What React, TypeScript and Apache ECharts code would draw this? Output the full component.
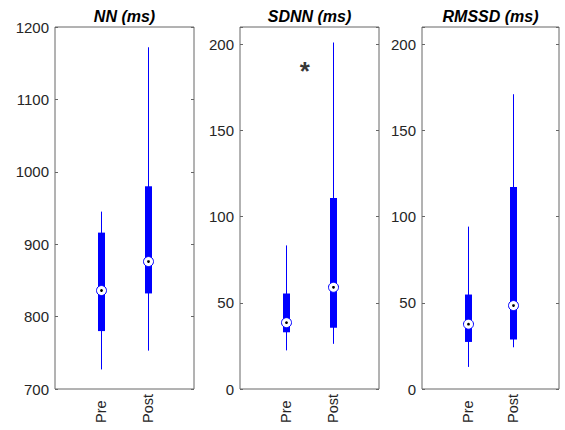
import React, { useEffect, useRef } from "react";
import * as echarts from "echarts";

// Categories and box statistics: [min, q1, median, q3, max]
const categories = ["Pre", "Post"];
const titles = ["NN (ms)", "SDNN (ms)", "RMSSD (ms)"];
const nnPre = [727, 780, 836, 916, 945];
const nnPost = [753, 832, 876, 980, 1172];
const sdnnPre = [22.4, 32.9, 38.5, 55.4, 83.3];
const sdnnPost = [26.2, 35.5, 59, 110.8, 201];
const rmssdPre = [12.8, 27.3, 37.6, 54.8, 94.2];
const rmssdPost = [24.2, 28.7, 48.4, 117.2, 171];
const yMins = [700, 0, 0];
const yMaxs = [1200, 210, 210];
const yIntervals = [100, 50, 50];
const asterisk = [1.4, 184.5];

const FONT = "'Liberation Sans', Arial, Helvetica, sans-serif";
const AXIS_COLOR = "#666666";
const TEXT_COLOR = "#262626";
const BLUE = "#0000ff";

const panels = [
  { left: 55, width: 139, data: [nnPre, nnPost] },
  { left: 240, width: 139, data: [sdnnPre, sdnnPost] },
  { left: 422, width: 137, data: [rmssdPre, rmssdPost] },
];
const TOP = 27;
const HEIGHT = 362;

export default function App() {
  const ref = useRef<HTMLDivElement>(null);
  useEffect(() => {
    if (!ref.current) return;
    const chart = echarts.init(ref.current, null, { renderer: "svg" });

    const grid = panels.map((p) => ({
      left: p.left,
      top: TOP,
      width: p.width,
      height: HEIGHT,
      show: true,
      borderColor: AXIS_COLOR,
      borderWidth: 1,
      backgroundColor: "transparent",
      containLabel: false,
    }));

    const xAxis = panels.map((_, i) => ({
      type: "value",
      gridIndex: i,
      min: 0,
      max: 3,
      interval: 1,
      axisLine: { show: false },
      axisTick: { show: false },
      splitLine: { show: false },
      axisLabel: {
        rotate: 90,
        align: "left",
        margin: 34,
        fontSize: 14.5,
        fontFamily: FONT,
        color: TEXT_COLOR,
        formatter: (v: number) =>
          v >= 1 && v <= categories.length && Number.isInteger(v) ? categories[v - 1] : "",
      },
    }));

    const yAxis: any[] = [];
    panels.forEach((_, i) => {
      const base = {
        type: "value",
        gridIndex: i,
        min: yMins[i],
        max: yMaxs[i],
        interval: yIntervals[i],
        splitLine: { show: false },
        axisLine: { show: false },
        axisTick: {
          show: true,
          inside: true,
          length: 3,
          lineStyle: { color: AXIS_COLOR, width: 1 },
        },
      };
      yAxis.push({
        ...base,
        position: "left",
        axisLabel: {
          margin: 6,
          fontSize: 15,
          fontFamily: FONT,
          color: TEXT_COLOR,
          formatter: (v: number) => (v % yIntervals[i] === 0 ? String(v) : ""),
        },
      });
      yAxis.push({
        ...base,
        position: "right",
        axisLabel: { show: false },
      });
    });

    const renderItem = (params: any, api: any) => {
      const x = api.value(0);
      const pMin = api.coord([x, api.value(1)]);
      const pQ1 = api.coord([x, api.value(2)]);
      const pMed = api.coord([x, api.value(3)]);
      const pQ3 = api.coord([x, api.value(4)]);
      const pMax = api.coord([x, api.value(5)]);
      const cx = Math.round(pMed[0]) + 0.5;
      return {
        type: "group",
        children: [
          {
            type: "line",
            shape: { x1: cx, y1: pMin[1], x2: cx, y2: pMax[1] },
            style: { stroke: BLUE, lineWidth: 1 },
          },
          {
            type: "rect",
            shape: { x: cx - 3.5, y: pQ3[1], width: 7, height: pQ1[1] - pQ3[1] },
            style: { fill: BLUE },
          },
          {
            type: "circle",
            shape: { cx: cx, cy: pMed[1], r: 5 },
            style: { fill: "#ffffff", stroke: BLUE, lineWidth: 1 },
          },
          {
            type: "circle",
            shape: { cx: cx, cy: pMed[1], r: 1.4 },
            style: { fill: "#000000" },
          },
        ],
      };
    };

    const series: any[] = panels.map((p, i) => ({
      type: "custom",
      xAxisIndex: i,
      yAxisIndex: i * 2,
      renderItem,
      encode: { x: 0, y: [1, 2, 3, 4, 5] },
      data: p.data.map((d, j) => [j + 1, ...d]),
      silent: true,
    }));

    series.push({
      type: "scatter",
      xAxisIndex: 1,
      yAxisIndex: 2,
      symbolSize: 0,
      silent: true,
      data: [asterisk],
      label: {
        show: true,
        position: "inside",
        formatter: "*",
        fontSize: 26,
        fontWeight: "bold",
        fontFamily: FONT,
        color: "#000000",
      },
    });

    const title = panels.map((p, i) => ({
      text: titles[i],
      left: p.left + p.width / 2,
      top: 8,
      textAlign: "center",
      padding: 0,
      textStyle: {
        fontSize: 16,
        fontWeight: "bold",
        fontStyle: "italic",
        fontFamily: FONT,
        color: "#000000",
      },
    }));

    chart.setOption({
      animation: false,
      backgroundColor: "#ffffff",
      title,
      grid,
      xAxis,
      yAxis,
      series,
    });
    return () => chart.dispose();
  }, []);

  return <div ref={ref} style={{ width: 565, height: 430, position: "absolute", left: 0, top: 0 }} />;
}
